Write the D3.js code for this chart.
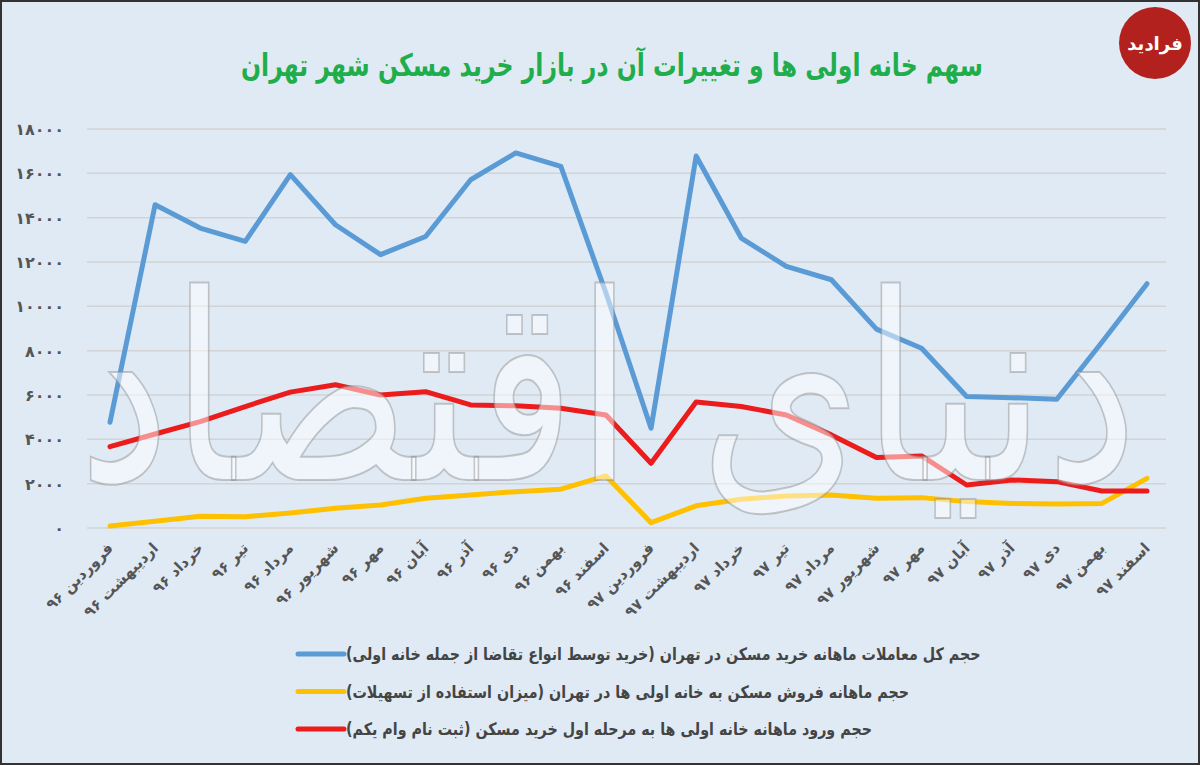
<!DOCTYPE html>
<html>
<head>
<meta charset="utf-8">
<script src="https://cdn.jsdelivr.net/npm/d3@7"></script>
<style>
  html, body { margin: 0; padding: 0; background: #dfeaf5; }
  svg { display: block; }
</style>
</head>
<body>
<div id="chart"></div>
<script>
// months (x categories)
const months = [
    'فروردین ۹۶', 'اردیبهشت ۹۶', 'خرداد ۹۶', 'تیر ۹۶', 'مرداد ۹۶', 'شهریور ۹۶',
    'مهر ۹۶', 'آبان ۹۶', 'آذر ۹۶', 'دی ۹۶', 'بهمن ۹۶', 'اسفند ۹۶',
    'فروردین ۹۷', 'اردیبهشت ۹۷', 'خرداد ۹۷', 'تیر ۹۷', 'مرداد ۹۷', 'شهریور ۹۷',
    'مهر ۹۷', 'آبان ۹۷', 'آذر ۹۷', 'دی ۹۷', 'بهمن ۹۷', 'اسفند ۹۷'
];

// total monthly purchases in Tehran
const totalDeals = [4770, 14580, 13530, 12930, 15940, 13680, 12330, 13150, 15710, 16920, 16310, 10600,
    4500, 16780, 13080, 11800, 11200, 8970, 8110, 5930, 5880, 5810, 8380, 11020];
// sales to first-home buyers (loan use)
const firstHomeSales = [90, 300, 530, 510, 680, 890, 1040, 1340, 1490, 1640, 1750, 2350,
    240, 1000, 1300, 1440, 1490, 1340, 1370, 1190, 1110, 1080, 1110, 2240];
// first-home buyers entering the scheme (loan registration)
const firstHomeEntries = [3670, 4240, 4800, 5480, 6130, 6460, 6000, 6150, 5550, 5510, 5400, 5100,
    2920, 5680, 5480, 5100, 4200, 3180, 3250, 1940, 2170, 2090, 1670, 1670];

const yTicks = [0, 2000, 4000, 6000, 8000, 10000, 12000, 14000, 16000, 18000];

const legendLabels = [
    'حجم کل معاملات ماهانه خرید مسکن در تهران (خرید توسط انواع تقاضا از جمله خانه اولی)',
    'حجم ماهانه فروش مسکن به خانه اولی ها در تهران (میزان استفاده از تسهیلات)',
    'حجم ورود ماهانه خانه اولی ها به مرحله اول خرید مسکن (ثبت نام وام یکم)'
];

const title = 'سهم خانه اولی ها و تغییرات آن در بازار خرید مسکن شهر تهران';

function drawChart() {
    const width = 1200;
    const height = 765;
    const font = '"DejaVu Sans", "Noto Sans", sans-serif';

    const svg = d3.select('#chart')
        .append('svg')
        .attr('width', width)
        .attr('height', height);

    svg.append('rect')
        .attr('x', 1).attr('y', 1)
        .attr('width', width - 2).attr('height', height - 2)
        .attr('fill', '#dfeaf5')
        .attr('stroke', '#333')
        .attr('stroke-width', 2);

    const x = d3.scalePoint().domain(months).range([110, 1147]);
    const y = d3.scaleLinear().domain([0, 18000]).range([528, 129]);

    const toFa = s => String(s).replace(/\d/g, c => '۰۱۲۳۴۵۶۷۸۹'[+c]);

    // grid
    svg.append('g').selectAll('line')
        .data(yTicks)
        .join('line')
        .attr('x1', 87).attr('x2', 1166)
        .attr('y1', d => y(d)).attr('y2', d => y(d))
        .attr('stroke', '#d3d3d3')
        .attr('stroke-width', 1.5);

    // y axis labels
    svg.append('g').selectAll('text')
        .data(yTicks)
        .join('text')
        .attr('x', 64)
        .attr('y', d => y(d) + 6)
        .attr('text-anchor', 'end')
        .attr('font-family', font)
        .attr('font-size', 16)
        .attr('font-weight', 'bold')
        .attr('letter-spacing', 3)
        .attr('fill', '#555')
        .text(d => toFa(d));

    // x axis labels, rotated
    svg.append('g').selectAll('text')
        .data(months)
        .join('text')
        .attr('transform', d => `translate(${x(d) + 4},${549}) rotate(-45)`)
        .attr('text-anchor', 'end')
        .attr('font-family', font)
        .attr('font-size', 15)
        .attr('font-weight', 'bold')
        .attr('fill', '#555')
        .text(d => d);

    const series = [
        { values: totalDeals, color: '#5b9bd5' },
        { values: firstHomeSales, color: '#ffc000' },
        { values: firstHomeEntries, color: '#ec1c1c' }
    ];

    const line = d3.line()
        .x((d, i) => x(months[i]))
        .y(d => y(d));

    svg.append('g').selectAll('path')
        .data(series)
        .join('path')
        .attr('d', d => line(d.values))
        .attr('fill', 'none')
        .attr('stroke', d => d.color)
        .attr('stroke-width', 5)
        .attr('stroke-linejoin', 'round')
        .attr('stroke-linecap', 'round');

    // watermark on top of the lines, stretched to span the plot
    const wm = svg.append('text')
        .attr('font-family', font)
        .attr('font-size', 260)
        .attr('fill', '#ffffff')
        .attr('fill-opacity', 0.5)
        .attr('stroke', '#8a8a8a')
        .attr('stroke-opacity', 0.45)
        .attr('stroke-width', 2)
        .text('دنیای اقتصاد');
    const wmW = wm.node().getComputedTextLength();
    wm.attr('transform', `translate(78,480) scale(${1060 / wmW},1)`);

    // title, condensed
    svg.append('text')
        .attr('transform', 'translate(612,76) scale(0.76,1)')
        .attr('text-anchor', 'middle')
        .attr('font-family', font)
        .attr('font-size', 31)
        .attr('font-weight', 'bold')
        .attr('fill', '#1fae4b')
        .text(title);

    // logo
    svg.append('circle')
        .attr('cx', 1155).attr('cy', 43).attr('r', 36)
        .attr('fill', '#b3211f');
    svg.append('text')
        .attr('x', 1155).attr('y', 50)
        .attr('text-anchor', 'middle')
        .attr('font-family', font)
        .attr('font-size', 18)
        .attr('font-weight', 'bold')
        .attr('fill', '#fff')
        .text('فرادید');

    // legend
    const legend = svg.append('g').selectAll('g')
        .data(series)
        .join('g')
        .attr('transform', (d, i) => `translate(298,${654 + i * 37.5})`);

    legend.append('line')
        .attr('x1', 0).attr('x2', 46)
        .attr('stroke', d => d.color)
        .attr('stroke-width', 5)
        .attr('stroke-linecap', 'round');

    legend.append('text')
        .attr('transform', 'translate(48,6) scale(0.84,1)')
        .attr('font-family', font)
        .attr('font-size', 17)
        .attr('font-weight', 'bold')
        .attr('fill', '#444')
        .text((d, i) => legendLabels[i]);
}

drawChart();
</script>
</body>
</html>
